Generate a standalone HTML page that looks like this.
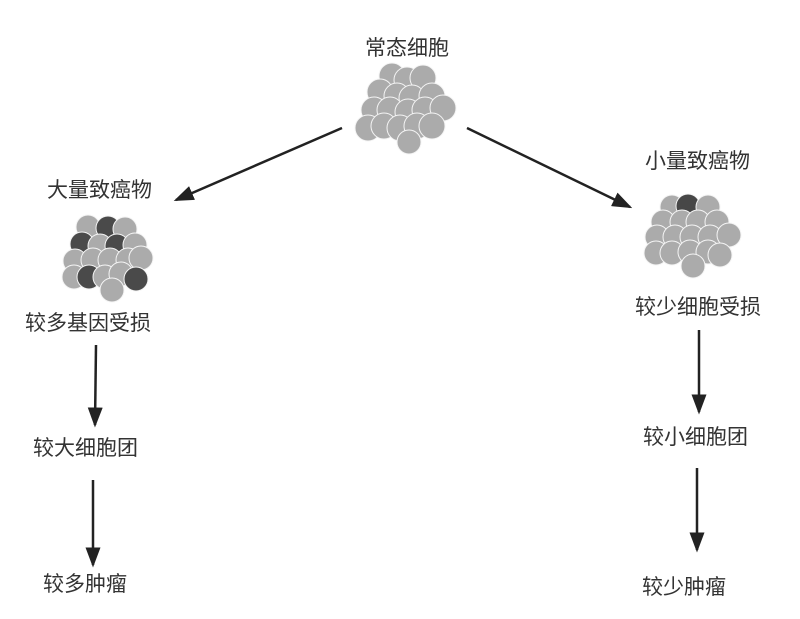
<!DOCTYPE html>
<html><head><meta charset="utf-8"><style>
body{margin:0;background:#fff}
svg text{font-family:"Liberation Sans","Noto Sans CJK SC",sans-serif;font-size:21px;fill:#333}
</style></head><body>
<svg width="800" height="614" viewBox="0 0 800 614" xmlns="http://www.w3.org/2000/svg">
<defs>
<marker id="a" markerWidth="8" markerHeight="6" refX="7" refY="3" orient="auto" markerUnits="strokeWidth"><path d="M0,0 L8,3 L0,6 z" fill="#222"/></marker>
</defs>
<g fill="#ababab" stroke="#f4f4f4" stroke-width="1">
<circle cx="392" cy="76" r="13"/><circle cx="407" cy="80" r="13"/><circle cx="423" cy="78" r="13"/>
<circle cx="380" cy="92" r="13"/><circle cx="397" cy="96" r="13"/><circle cx="412" cy="98" r="13"/><circle cx="432" cy="96" r="13"/>
<circle cx="374" cy="110" r="13"/><circle cx="390" cy="110" r="13"/><circle cx="408" cy="112" r="13"/><circle cx="425" cy="110" r="13"/><circle cx="443" cy="108" r="13"/>
<circle cx="368" cy="128" r="13"/><circle cx="384" cy="126" r="13"/><circle cx="400" cy="128" r="13"/><circle cx="417" cy="126" r="13"/><circle cx="432" cy="126" r="13"/>
<circle cx="409" cy="142" r="12"/>
<circle cx="672" cy="207" r="12"/><circle cx="688" cy="206" r="12" fill="#474747"/><circle cx="708" cy="207" r="12"/>
<circle cx="663" cy="222" r="12"/><circle cx="682" cy="222" r="12"/><circle cx="698" cy="222" r="12"/><circle cx="717" cy="222" r="12"/>
<circle cx="657" cy="237" r="12"/><circle cx="675" cy="237" r="12"/><circle cx="692" cy="237" r="12"/><circle cx="710" cy="237" r="12"/><circle cx="729" cy="235" r="12"/>
<circle cx="656" cy="253" r="12"/><circle cx="672" cy="253" r="12"/><circle cx="690" cy="252" r="12"/><circle cx="708" cy="252" r="12"/><circle cx="720" cy="255" r="12"/>
<circle cx="693" cy="266" r="12"/>
<circle cx="88" cy="227" r="12"/><circle cx="108" cy="228" r="12" fill="#4a4a4a"/><circle cx="125" cy="229" r="12"/>
<circle cx="82" cy="244" r="12" fill="#4a4a4a"/><circle cx="100" cy="246" r="12"/><circle cx="117" cy="246" r="12" fill="#4a4a4a"/><circle cx="135" cy="245" r="12"/>
<circle cx="75" cy="261" r="12"/><circle cx="93" cy="260" r="12"/><circle cx="110" cy="260" r="12"/><circle cx="128" cy="260" r="12"/><circle cx="141" cy="258" r="12"/>
<circle cx="74" cy="277" r="12"/><circle cx="89" cy="277" r="12" fill="#4a4a4a"/><circle cx="105" cy="277" r="12"/><circle cx="121" cy="274" r="12"/><circle cx="136" cy="279" r="12" fill="#4a4a4a"/>
<circle cx="112" cy="290" r="12"/>
</g>
<g stroke="#222" stroke-width="2.5" fill="none" marker-end="url(#a)">
<line x1="342" y1="128" x2="176" y2="200"/>
<line x1="467" y1="128" x2="630" y2="207"/>
<line x1="96" y1="345" x2="95" y2="425"/>
<line x1="93" y1="480" x2="93" y2="565"/>
<line x1="699" y1="330" x2="699" y2="412"/>
<line x1="697" y1="468" x2="697" y2="550"/>
</g>
<text x="365" y="55">常态细胞</text>
<text x="47" y="197">大量致癌物</text>
<text x="645" y="168">小量致癌物</text>
<text x="25" y="330">较多基因受损</text>
<text x="635" y="314">较少细胞受损</text>
<text x="33" y="455">较大细胞团</text>
<text x="643" y="444">较小细胞团</text>
<text x="43" y="591">较多肿瘤</text>
<text x="642" y="594">较少肿瘤</text>
</svg>
</body></html>
